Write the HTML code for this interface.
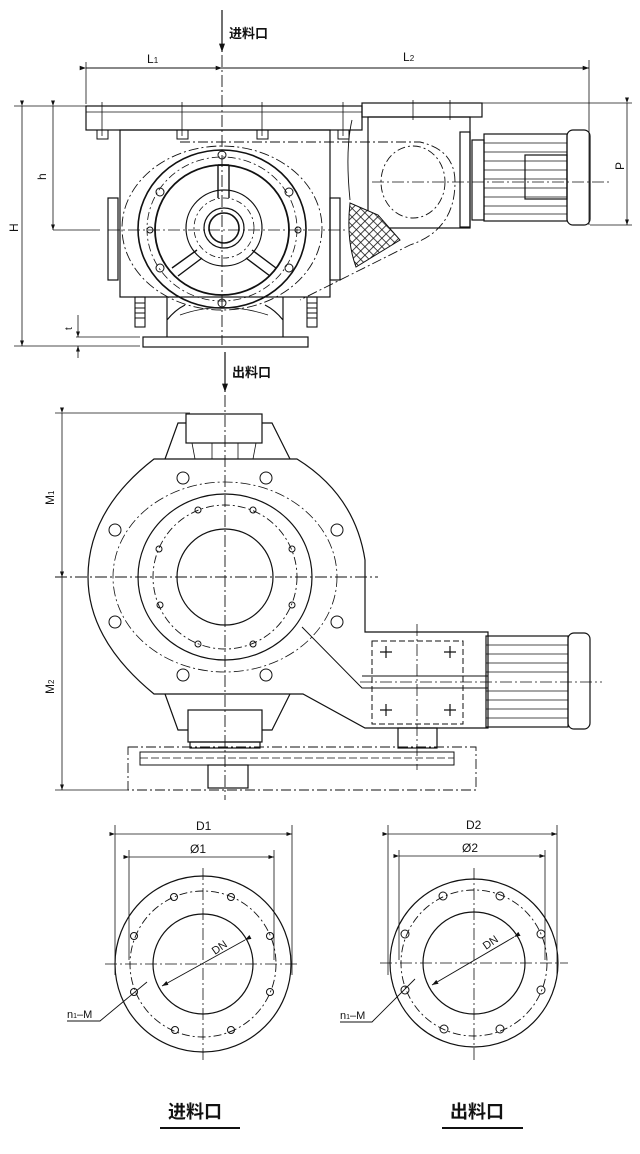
<!DOCTYPE html>
<html><head><meta charset="utf-8"><style>
html,body{margin:0;padding:0;background:#fff;width:640px;height:1154px;overflow:hidden}
svg{display:block}
text{font-family:"Liberation Sans","Noto Sans CJK SC",sans-serif;fill:#111}
</style></head><body>
<svg width="640" height="1154" viewBox="0 0 640 1154" xmlns="http://www.w3.org/2000/svg">
<defs>
<pattern id="hx" width="6" height="6" patternUnits="userSpaceOnUse" patternTransform="rotate(45)">
<rect width="6" height="6" fill="#fff"/><path d="M0 0H6M0 0V6" stroke="#111" stroke-width="1.6"/></pattern>
<marker id="ar" markerWidth="8" markerHeight="8" refX="7" refY="4" orient="auto"><path d="M0 1.5L7 4L0 6.5Z" fill="#111"/></marker>
</defs>
<g fill="none" stroke="#111" stroke-width="1.2">
<line x1="222" y1="10" x2="222" y2="52" marker-end="url(#ar)"/>
<line x1="222" y1="55" x2="222" y2="345" stroke-dasharray="12 3 2 3" stroke-width="0.9"/>
<line x1="86" y1="68" x2="222" y2="68" stroke-width="0.9" marker-start="url(#ar)" marker-end="url(#ar)"/>
<line x1="222" y1="68" x2="589" y2="68" stroke-width="0.9" marker-end="url(#ar)"/>
<line x1="86" y1="62" x2="86" y2="104" stroke-width="0.8"/>
<line x1="589" y1="60" x2="589" y2="225" stroke-width="0.8"/>
<rect x="86" y="106" width="276" height="24"/>
<rect x="362" y="103" width="120" height="14"/>
<line x1="86" y1="112" x2="362" y2="112" stroke-width="0.8"/>
<g stroke-width="0.8"><line x1="102" y1="102" x2="102" y2="136"/><line x1="182" y1="102" x2="182" y2="136"/><line x1="262" y1="102" x2="262" y2="136"/><line x1="343" y1="102" x2="343" y2="136"/><line x1="413" y1="100" x2="413" y2="120"/><line x1="450" y1="100" x2="450" y2="120"/></g>
<g stroke-width="1"><rect x="97" y="130" width="11" height="9"/><rect x="177" y="130" width="11" height="9"/><rect x="257" y="130" width="11" height="9"/><rect x="338" y="130" width="11" height="9"/></g>
<rect x="120" y="130" width="210" height="167"/>
<rect x="368" y="117" width="102" height="111"/>
<rect x="460" y="132" width="10" height="95"/>
<rect x="472" y="140" width="12" height="80"/>
<rect x="484" y="134" width="83" height="87"/>
<g stroke-width="0.7"><line x1="484" y1="143" x2="567" y2="143"/><line x1="484" y1="152" x2="567" y2="152"/><line x1="484" y1="161" x2="567" y2="161"/><line x1="484" y1="170" x2="567" y2="170"/><line x1="484" y1="179" x2="567" y2="179"/><line x1="484" y1="188" x2="567" y2="188"/><line x1="484" y1="197" x2="567" y2="197"/><line x1="484" y1="206" x2="567" y2="206"/><line x1="484" y1="214" x2="567" y2="214"/></g>
<rect x="525" y="155" width="42" height="44"/>
<rect x="567" y="130" width="23" height="95" rx="6"/>
<line x1="372" y1="182" x2="612" y2="182" stroke-dasharray="12 3 2 3" stroke-width="0.8"/>
<ellipse cx="413" cy="182" rx="32" ry="36" stroke-dasharray="8 3 2 3" stroke-width="0.9"/>
<path d="M180 142 L420 142 Q455 150 455 182 Q455 230 410 245 L300 300" stroke-dasharray="10 3 2 3" stroke-width="0.9"/>
<path d="M352 120 Q345 150 350 200" stroke-width="0.9"/>
<path d="M350 203 Q346 240 356 267 L400 240 L378 215 Z" fill="url(#hx)" stroke-width="1"/>
<ellipse cx="222" cy="228" rx="100" ry="82" stroke-dasharray="10 3 2 3" stroke-width="0.9"/>
<ellipse cx="222" cy="229" rx="84" ry="79" stroke-width="1.6"/>
<ellipse cx="222" cy="229" rx="75" ry="72" stroke-dasharray="8 3 2 3" stroke-width="0.8"/>
<ellipse cx="222" cy="230" rx="67" ry="65" stroke-width="1.8"/>
<circle cx="224" cy="228" r="38"/>
<circle cx="224" cy="228" r="30" stroke-dasharray="6 3 2 3" stroke-width="0.8"/>
<circle cx="224" cy="228" r="20"/>
<circle cx="224" cy="228" r="15" stroke-width="1.6"/>
<path d="M218 165 V198 M229 165 V198 M218 165 H229" stroke-width="1.4"/>
<path d="M172 268 L197 250 M178 276 L202 258" stroke-width="1.4"/>
<path d="M276 268 L252 250 M270 276 L246 258" stroke-width="1.4"/>
<g stroke-width="1"><circle cx="222" cy="155" r="4"/><circle cx="222" cy="303" r="4"/><circle cx="160" cy="192" r="4"/><circle cx="289" cy="192" r="4"/><circle cx="160" cy="268" r="4"/><circle cx="289" cy="268" r="4"/><circle cx="150" cy="230" r="3"/><circle cx="298" cy="230" r="3"/></g>
<line x1="108" y1="230" x2="345" y2="230" stroke-dasharray="12 3 2 3" stroke-width="0.8"/>
<rect x="108" y="198" width="10" height="82"/><rect x="330" y="198" width="10" height="82"/>
<path d="M167 297 L167 337 M283 297 L283 337 M167 320 Q175 310 185 305 M283 320 Q275 310 265 305"/>
<rect x="143" y="337" width="165" height="10"/>
<path d="M180 315 Q222 300 268 315" stroke-width="0.8"/>
<g stroke-width="1.1"><rect x="135" y="297" width="10" height="30"/><rect x="307" y="297" width="10" height="30"/>
<path d="M135 303H145M135 308H145M135 313H145M135 318H145M307 303H317M307 308H317M307 313H317M307 318H317"/></g>
<g stroke-width="0.8">
<line x1="14" y1="106" x2="120" y2="106"/><line x1="14" y1="346" x2="140" y2="346"/>
<line x1="22" y1="106" x2="22" y2="346" marker-start="url(#ar)" marker-end="url(#ar)"/>
<line x1="53" y1="106" x2="53" y2="230" marker-start="url(#ar)" marker-end="url(#ar)"/>
<line x1="53" y1="230" x2="100" y2="230"/>
<line x1="76" y1="337" x2="140" y2="337"/>
<line x1="78" y1="315" x2="78" y2="337" marker-end="url(#ar)"/><line x1="78" y1="358" x2="78" y2="346" marker-end="url(#ar)"/>
<line x1="482" y1="103" x2="632" y2="103"/><line x1="590" y1="225" x2="632" y2="225"/>
<line x1="627" y1="103" x2="627" y2="225" marker-start="url(#ar)" marker-end="url(#ar)"/>
</g>
<line x1="225" y1="352" x2="225" y2="392" marker-end="url(#ar)"/>

<line x1="225" y1="395" x2="225" y2="800" stroke-dasharray="12 3 2 3" stroke-width="0.9"/>
<line x1="55" y1="577" x2="378" y2="577" stroke-dasharray="12 3 2 3" stroke-width="0.9"/>
<g stroke-width="0.8"><line x1="55" y1="413" x2="190" y2="413"/><line x1="55" y1="790" x2="128" y2="790"/>
<line x1="62" y1="413" x2="62" y2="577" marker-start="url(#ar)" marker-end="url(#ar)"/>
<line x1="62" y1="577" x2="62" y2="790" marker-start="url(#ar)" marker-end="url(#ar)"/></g>
<rect x="186" y="414" width="76" height="29"/>
<path d="M186 423 L178 423 L165 459 M262 423 L272 423 L290 459"/>
<path d="M192 443 L195 459 M212 443 L212 459 M238 443 L238 459 M256 443 L253 459" stroke-width="0.8"/>
<path d="M154 459 L297 459 Q355 495 365 560 L365 632 L488 632 L488 728 L365 728 L303 694 L154 694 Q88 640 88 577 Q88 510 154 459 Z"/>
<path d="M302 627 L362 688 L488 688 M362 676 L488 676" stroke-width="1"/>
<ellipse cx="225" cy="577" rx="87" ry="83" stroke-width="1.2"/>
<circle cx="225" cy="577" r="72" stroke-dasharray="8 3 2 3" stroke-width="0.9"/>
<circle cx="225" cy="577" r="48"/>
<ellipse cx="225" cy="577" rx="112" ry="95" stroke-dasharray="10 3 2 3" stroke-width="0.8"/>
<g stroke-width="1"><circle cx="198" cy="510" r="3"/><circle cx="253" cy="510" r="3"/><circle cx="159" cy="549" r="3"/><circle cx="292" cy="549" r="3"/><circle cx="160" cy="605" r="3"/><circle cx="292" cy="605" r="3"/><circle cx="198" cy="644" r="3"/><circle cx="253" cy="644" r="3"/>
<circle cx="183" cy="478" r="6"/><circle cx="266" cy="478" r="6"/><circle cx="115" cy="530" r="6"/><circle cx="337" cy="530" r="6"/><circle cx="115" cy="622" r="6"/><circle cx="337" cy="622" r="6"/><circle cx="183" cy="675" r="6"/><circle cx="266" cy="675" r="6"/></g>
<path d="M165 694 L178 730 L188 730 M290 694 L272 730 L262 730"/>
<rect x="188" y="710" width="74" height="32"/>
<rect x="190" y="742" width="70" height="6"/>
<rect x="372" y="641" width="91" height="83" stroke-dasharray="6 3" stroke-width="1"/>
<path d="M380 652h12M386 646v12M444 652h12M450 646v12M380 710h12M386 704v12M444 710h12M450 704v12"/>
<line x1="417" y1="624" x2="417" y2="770" stroke-dasharray="12 3 2 3" stroke-width="0.8"/>
<line x1="360" y1="682" x2="602" y2="682" stroke-dasharray="12 3 2 3" stroke-width="0.8"/>
<rect x="486" y="636" width="82" height="91"/>
<g stroke-width="0.7"><line x1="486" y1="645" x2="568" y2="645"/><line x1="486" y1="654" x2="568" y2="654"/><line x1="486" y1="663" x2="568" y2="663"/><line x1="486" y1="672" x2="568" y2="672"/><line x1="486" y1="691" x2="568" y2="691"/><line x1="486" y1="700" x2="568" y2="700"/><line x1="486" y1="709" x2="568" y2="709"/><line x1="486" y1="718" x2="568" y2="718"/></g>
<rect x="568" y="633" width="22" height="96" rx="6"/>
<rect x="398" y="728" width="39" height="20"/>
<rect x="128" y="747" width="348" height="43" stroke-dasharray="10 3 2 3" stroke-width="0.9"/>
<rect x="140" y="752" width="314" height="13" stroke-width="1"/>
<line x1="140" y1="758" x2="454" y2="758" stroke-dasharray="8 3" stroke-width="0.7"/>
<rect x="208" y="765" width="40" height="23"/>

<g stroke-width="0.8">
<line x1="115" y1="825" x2="115" y2="975"/><line x1="292" y1="825" x2="292" y2="975"/>
<line x1="115" y1="834" x2="292" y2="834" marker-start="url(#ar)" marker-end="url(#ar)"/>
<line x1="129" y1="850" x2="129" y2="960"/><line x1="274" y1="850" x2="274" y2="960"/>
<line x1="129" y1="857" x2="274" y2="857" marker-start="url(#ar)" marker-end="url(#ar)"/>
<line x1="388" y1="825" x2="388" y2="975"/><line x1="557" y1="825" x2="557" y2="975"/>
<line x1="388" y1="834" x2="557" y2="834" marker-start="url(#ar)" marker-end="url(#ar)"/>
<line x1="399" y1="850" x2="399" y2="960"/><line x1="545" y1="850" x2="545" y2="960"/>
<line x1="399" y1="856" x2="545" y2="856" marker-start="url(#ar)" marker-end="url(#ar)"/>
</g>
<g stroke-dasharray="12 3 2 3" stroke-width="0.8">
<line x1="105" y1="964" x2="298" y2="964"/><line x1="203" y1="868" x2="203" y2="1060"/>
<line x1="380" y1="963" x2="568" y2="963"/><line x1="474" y1="868" x2="474" y2="1060"/>
</g>
<circle cx="203" cy="964" r="88"/>
<circle cx="203" cy="964" r="73" stroke-dasharray="8 3 2 3" stroke-width="0.9"/>
<circle cx="203" cy="964" r="50"/>
<circle cx="474" cy="963" r="84"/>
<circle cx="474" cy="963" r="73" stroke-dasharray="8 3 2 3" stroke-width="0.9"/>
<circle cx="474" cy="963" r="51"/>
<g stroke-width="1"><circle cx="174" cy="897" r="3.5"/><circle cx="231" cy="897" r="3.5"/><circle cx="134" cy="936" r="3.5"/><circle cx="270" cy="936" r="3.5"/><circle cx="134" cy="992" r="3.5"/><circle cx="270" cy="992" r="3.5"/><circle cx="175" cy="1030" r="3.5"/><circle cx="231" cy="1030" r="3.5"/>
<circle cx="443" cy="896" r="4"/><circle cx="500" cy="896" r="4"/><circle cx="405" cy="934" r="4"/><circle cx="541" cy="934" r="4"/><circle cx="405" cy="990" r="4"/><circle cx="541" cy="990" r="4"/><circle cx="444" cy="1029" r="4"/><circle cx="500" cy="1029" r="4"/></g>
<line x1="245" y1="940" x2="162" y2="986" stroke-width="0.9" marker-start="url(#ar)" marker-end="url(#ar)"/>
<line x1="514" y1="937" x2="432" y2="985" stroke-width="0.9" marker-start="url(#ar)" marker-end="url(#ar)"/>
<path d="M67 1021 L100 1021 L147 982" stroke-width="0.9"/>
<path d="M340 1022 L372 1022 L415 979" stroke-width="0.9"/>
<line x1="160" y1="1128" x2="240" y2="1128" stroke-width="2"/>
<line x1="442" y1="1128" x2="523" y2="1128" stroke-width="2"/>
</g>
<g font-size="12">
<text x="229" y="38" font-size="13" font-weight="bold">进料口</text>
<text x="147" y="63">L<tspan font-size="8">1</tspan></text>
<text x="403" y="61">L<tspan font-size="8">2</tspan></text>
<text transform="translate(46,180) rotate(-90)">h</text>
<text transform="translate(18,232) rotate(-90)">H</text>
<text transform="translate(72,330) rotate(-90)" font-size="10">t</text>
<text transform="translate(624,170) rotate(-90)">P</text>
<text x="232" y="377" font-size="13" font-weight="bold">出料口</text>
<text transform="translate(54,505) rotate(-90)">M<tspan font-size="8">1</tspan></text>
<text transform="translate(54,694) rotate(-90)">M<tspan font-size="8">2</tspan></text>
<text x="196" y="830">D1</text>
<text x="190" y="853">Ø1</text>
<text x="466" y="829">D2</text>
<text x="462" y="852">Ø2</text>
<text transform="translate(215,955) rotate(-35)" font-size="11">DN</text>
<text transform="translate(486,950) rotate(-35)" font-size="11">DN</text>
<text x="67" y="1018" font-size="11">n<tspan font-size="7">1</tspan>–M</text>
<text x="340" y="1019" font-size="11">n<tspan font-size="7">1</tspan>–M</text>
<text x="168" y="1118" font-size="18" font-weight="bold">进料口</text>
<text x="450" y="1118" font-size="18" font-weight="bold">出料口</text>
</g>
</svg>
</body></html>
